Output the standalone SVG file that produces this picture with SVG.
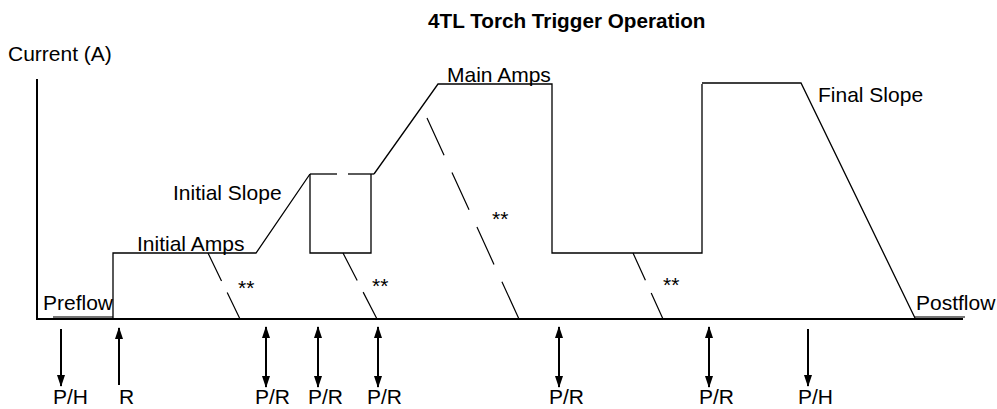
<svg xmlns="http://www.w3.org/2000/svg" width="997" height="409" viewBox="0 0 997 409">
<defs>
<marker id="ah" viewBox="0 0 12 8" refX="11" refY="4" markerWidth="12" markerHeight="8" markerUnits="userSpaceOnUse" orient="auto-start-reverse">
<path d="M0,0 L12,4 L0,8 z" fill="#000"/>
</marker>
</defs>
<style>
text { font-family: "Liberation Sans", Arial, sans-serif; font-size: 21px; fill: #000; }
.title { font-weight: bold; font-size: 20.7px; }
.wave { fill: none; stroke: #000; stroke-width: 1.3; }
.axis { fill: none; stroke: #000; stroke-width: 2; }
.flow { fill: none; stroke: #777; stroke-width: 2; }
.dash { fill: none; stroke: #000; stroke-width: 1.2; }
.trig { fill: none; stroke: #000; stroke-width: 2; }
</style>
<rect width="997" height="409" fill="#fff"/>
<g id="title"><text class="title" x="428" y="28">4TL Torch Trigger Operation</text></g>
<g id="axes">
<line class="axis" x1="37" y1="79" x2="37" y2="319"/>
<line class="axis" x1="36" y1="319" x2="963" y2="319"/>
<line class="flow" x1="53" y1="317" x2="113" y2="317"/>
<line class="flow" x1="915" y1="317" x2="965" y2="317"/>
<text x="8" y="61">Current (A)</text>
</g>
<g id="waveform">
<polyline class="wave" points="113,319 113,253 256,253 310,174"/>
<line class="wave" x1="310" y1="174" x2="337" y2="174"/>
<line class="wave" x1="348" y1="174" x2="374" y2="174"/>
<polyline class="wave" points="310,174 310,253 371,253 371,174"/>
<polyline class="wave" points="374,174 438,84 552,84 552,253 702,253 702,84"/>
<polyline class="wave" points="702,83 801,83 915,318"/>
</g>
<g id="dashes">
<line class="dash" x1="208" y1="253" x2="240" y2="319" stroke-dasharray="31 13 40"/>
<line class="dash" x1="343" y1="253" x2="377" y2="319" stroke-dasharray="31 13 40"/>
<line class="dash" x1="427" y1="118" x2="519" y2="319" stroke-dasharray="41 19"/>
<line class="dash" x1="633" y1="253" x2="663" y2="319" stroke-dasharray="30 14 40"/>
<text x="238" y="295">**</text>
<text x="372" y="293">**</text>
<text x="492" y="226">**</text>
<text x="663" y="292">**</text>
</g>
<g id="labels">
<text x="447" y="82">Main Amps</text>
<text x="818" y="102">Final Slope</text>
<text x="173" y="200">Initial Slope</text>
<text x="137" y="251">Initial Amps</text>
<text x="43" y="310">Preflow</text>
<text x="916" y="310">Postflow</text>
</g>
<g id="connectors">
<line class="trig" x1="61" y1="329" x2="61" y2="386" marker-end="url(#ah)"/>
<line class="trig" x1="119" y1="385" x2="119" y2="328" marker-end="url(#ah)"/>
<line class="trig" x1="266" y1="327" x2="266" y2="387" marker-start="url(#ah)" marker-end="url(#ah)"/>
<line class="trig" x1="318" y1="327" x2="318" y2="387" marker-start="url(#ah)" marker-end="url(#ah)"/>
<line class="trig" x1="378" y1="327" x2="378" y2="387" marker-start="url(#ah)" marker-end="url(#ah)"/>
<line class="trig" x1="559" y1="327" x2="559" y2="387" marker-start="url(#ah)" marker-end="url(#ah)"/>
<line class="trig" x1="709" y1="327" x2="709" y2="387" marker-start="url(#ah)" marker-end="url(#ah)"/>
<line class="trig" x1="808" y1="329" x2="808" y2="386" marker-end="url(#ah)"/>
</g>
<g id="trigger-labels">
<text x="53" y="404">P/H</text>
<text x="119" y="404">R</text>
<text x="255" y="404">P/R</text>
<text x="308" y="404">P/R</text>
<text x="367" y="404">P/R</text>
<text x="549" y="404">P/R</text>
<text x="699" y="404">P/R</text>
<text x="798" y="404">P/H</text>
</g>
</svg>
